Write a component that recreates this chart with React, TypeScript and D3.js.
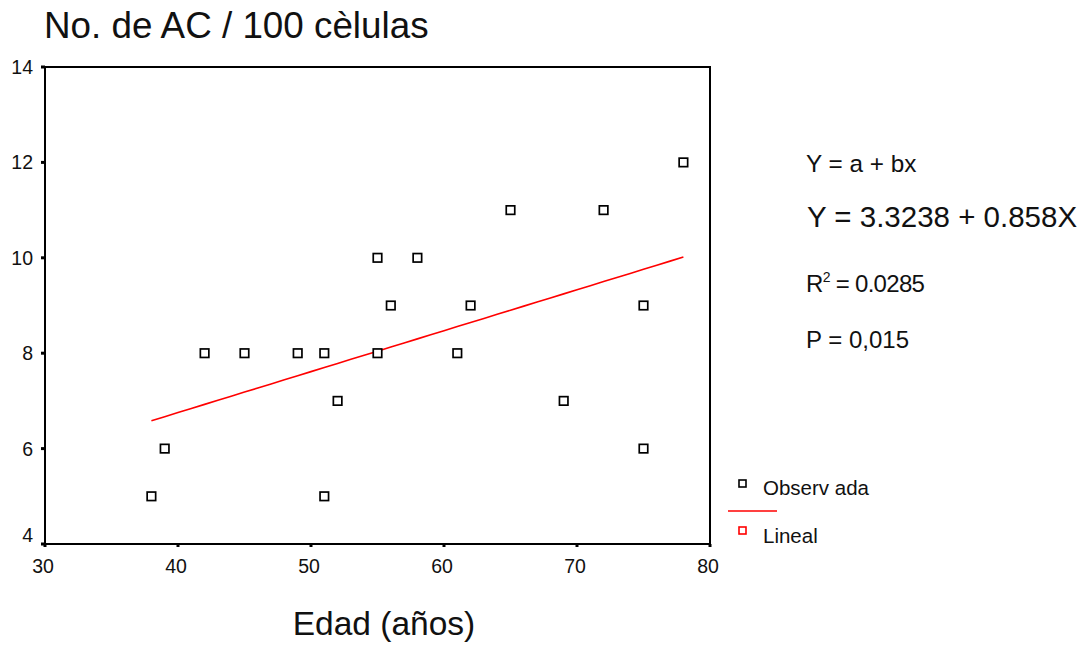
import React from "react";
import * as d3 from "d3";

const edad = [38, 39, 42, 45, 49, 51, 51, 52, 55, 55, 56, 58, 61, 62, 65, 69, 72, 75, 75, 78];
const celulas = [5, 6, 8, 8, 8, 8, 5, 7, 10, 8, 9, 10, 8, 9, 11, 7, 11, 9, 6, 12];
const xTicks = [30, 40, 50, 60, 70, 80];
const yTicks = [4, 6, 8, 10, 12, 14];
const intercept = 3.3238;
const slope = 0.0858;
const fitRange = [38, 78];

const FONT = "'Liberation Sans', Arial, sans-serif";

export default function App() {
  const left = 45, right = 710, top = 67, bottom = 544;
  const x = d3.scaleLinear().domain([30, 80]).range([left, right]);
  const y = d3.scaleLinear().domain([4, 14]).range([bottom, top]);
  const fitXs = d3.range(fitRange[0], fitRange[1] + 0.001, 1);
  const line = d3
    .line<number>()
    .x((d) => x(d))
    .y((d) => y(intercept + slope * d));
  const s = 8.5;
  return (
    <svg width={1087} height={645} style={{ position: "absolute", left: 0, top: 0, background: "#fff" }} fontFamily={FONT}>
      <rect x={0} y={0} width={1087} height={645} fill="#fff" />
      <text x={44} y={38} fontSize={36.8} fill="#111">No. de AC / 100 cèlulas</text>
      <rect x={left} y={top} width={right - left} height={bottom - top} fill="none" stroke="#000" strokeWidth={2} />
      {yTicks.map((t) => (
        <g key={"y" + t}>
          <line x1={left - 4} x2={left} y1={y(t)} y2={y(t)} stroke="#000" strokeWidth={3} />
          <text x={33} y={Math.min(y(t) + 7, 542)} fontSize={19.5} textAnchor="end" fill="#111">{t}</text>
        </g>
      ))}
      {xTicks.map((t) => (
        <g key={"x" + t}>
          <line x1={x(t)} x2={x(t)} y1={bottom} y2={bottom + 3} stroke="#000" strokeWidth={3} />
          <text x={x(t) - 2} y={573} fontSize={19.5} textAnchor="middle" fill="#111">{t}</text>
        </g>
      ))}
      <path d={line(fitXs) || ""} fill="none" stroke="#ff0000" strokeWidth={1.6} />
      {edad.map((e, i) => (
        <rect key={i} x={x(e) - s / 2} y={y(celulas[i]) - s / 2} width={s} height={s} fill="#fff" stroke="#000" strokeWidth={1.7} />
      ))}
      <text x={384} y={635} fontSize={33.5} textAnchor="middle" fill="#111">Edad (años)</text>
      <g fill="#111">
        <text x={806} y={172} fontSize={24.3}>Y = a + bx</text>
        <text x={807} y={227} fontSize={29.5}>Y = 3.3238 + 0.858X</text>
        <text x={806} y={292} fontSize={24} letterSpacing={-0.7}>R<tspan dy={-10} fontSize={14}>2</tspan><tspan dy={10}> = 0.0285</tspan></text>
        <text x={806} y={348} fontSize={24}>P = 0,015</text>
      </g>
      <rect x={739} y={480} width={7} height={7} fill="#fff" stroke="#000" strokeWidth={1.6} />
      <text x={763} y={495} fontSize={20.5} fill="#111">Observ ada</text>
      <line x1={728} x2={777} y1={511} y2={511} stroke="#ff0000" strokeWidth={1.6} />
      <rect x={739} y={527} width={7} height={7} fill="#fff" stroke="#ff0000" strokeWidth={1.6} />
      <text x={763} y={543} fontSize={20.5} fill="#111">Lineal</text>
    </svg>
  );
}
